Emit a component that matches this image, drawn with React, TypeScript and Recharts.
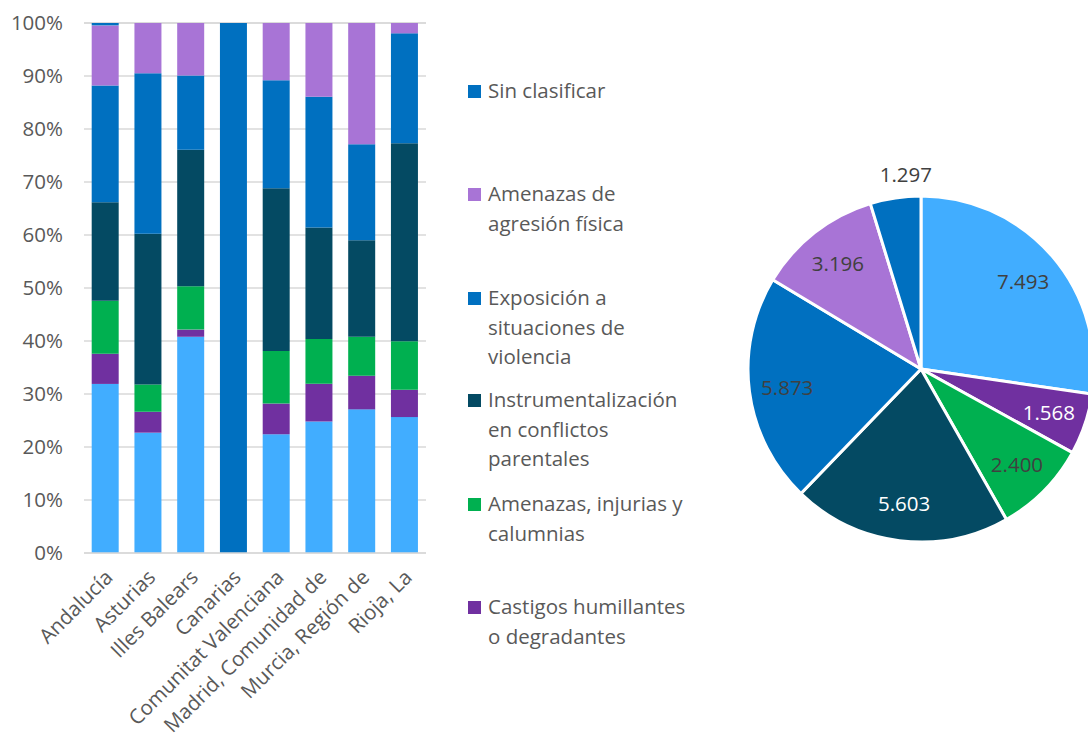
import { BarChart, Bar, XAxis, YAxis, CartesianGrid, PieChart, Pie, Cell } from 'recharts';

const categories = ['Andalucía', 'Asturias', 'Illes Balears', 'Canarias', 'Comunitat Valenciana', 'Madrid, Comunidad de', 'Murcia, Región de', 'Rioja, La'];

// percentage shares per region, bottom to top
const sinNombre = [31.9, 22.7, 40.8, 0, 22.4, 24.8, 27.1, 25.65];
const castigos = [5.7, 3.95, 1.35, 0, 5.8, 7.15, 6.35, 5.15];
const injurias = [10.0, 5.15, 8.2, 0, 9.9, 8.45, 7.35, 9.15];
const instrumentalizacion = [18.6, 28.45, 25.75, 0, 30.7, 21.0, 18.2, 37.35];
const exposicion = [22.0, 30.25, 14.0, 0, 20.4, 24.7, 18.1, 20.75];
const agresion = [11.35, 9.5, 9.9, 0, 10.8, 13.9, 22.9, 1.95];
const sinClasificar = [0.45, 0, 0, 100, 0, 0, 0, 0];

const yTicks = [0, 10, 20, 30, 40, 50, 60, 70, 80, 90, 100];

const pieNames = ['', 'Castigos humillantes o degradantes', 'Amenazas, injurias y calumnias', 'Instrumentalización en conflictos parentales', 'Exposición a situaciones de violencia', 'Amenazas de agresión física', 'Sin clasificar'];
const pieValues = [7493, 1568, 2400, 5603, 5873, 3196, 1297];

const legendItems = [
  { lines: ['Sin clasificar'], color: '#0070C0', top: 76 },
  { lines: ['Amenazas de', 'agresión física'], color: '#A874D6', top: 179 },
  { lines: ['Exposición a', 'situaciones de', 'violencia'], color: '#0070C0', top: 283 },
  { lines: ['Instrumentalización', 'en conflictos', 'parentales'], color: '#044A63', top: 385 },
  { lines: ['Amenazas, injurias y', 'calumnias'], color: '#00B050', top: 489 },
  { lines: ['Castigos humillantes', 'o degradantes'], color: '#7030A0', top: 592 },
];

const COLORS = {
  sinNombre: '#41ADFF',
  castigos: '#7030A0',
  injurias: '#00B050',
  instrumentalizacion: '#044A63',
  exposicion: '#0070C0',
  agresion: '#A874D6',
  sinClasificar: '#0070C0',
};
const pieColors = [COLORS.sinNombre, COLORS.castigos, COLORS.injurias, COLORS.instrumentalizacion, COLORS.exposicion, COLORS.agresion, COLORS.sinClasificar];
const pieTextColors = ['#404040', '#FFFFFF', '#404040', '#FFFFFF', '#404040', '#404040', '#404040'];

const font = '"Open Sans", sans-serif';
const textGray = '#595959';
const fs = 20.5;

const barData = categories.map((name, i) => ({
  name,
  sinNombre: sinNombre[i],
  castigos: castigos[i],
  injurias: injurias[i],
  instrumentalizacion: instrumentalizacion[i],
  exposicion: exposicion[i],
  agresion: agresion[i],
  sinClasificar: sinClasificar[i],
}));

const pieData = pieNames.map((name, i) => ({ name, value: pieValues[i] }));

const fmt = (v: number) => v.toString().replace(/\B(?=(\d{3})+(?!\d))/g, '.');

const LegendBox = () => (
  <div style={{ position: 'absolute', left: 468, top: 0, width: 240, height: 700, fontFamily: font, fontSize: fs, color: textGray }}>
    {legendItems.map((item) => (
      <div key={item.lines[0]} style={{ position: 'absolute', left: 0, top: item.top }}>
        <div style={{ position: 'absolute', left: 0, top: 9, width: 13, height: 13, background: item.color }} />
        <div style={{ position: 'absolute', left: 20, top: 0, lineHeight: '29.5px', whiteSpace: 'nowrap' }}>
          {item.lines.map((l) => (
            <div key={l}>{l}</div>
          ))}
        </div>
      </div>
    ))}
  </div>
);

const XTick = (props: any) => {
  const { x, y, payload } = props;
  return (
    <g transform={`translate(${x + 3},${y + 12})`}>
      <text transform="rotate(-45)" textAnchor="end" dy={8} fill={textGray} fontSize={fs} fontFamily={font}>
        {payload.value}
      </text>
    </g>
  );
};

const renderPieLabel = (props: any) => {
  const { cx, cy, midAngle, outerRadius, index, value } = props;
  const rad = Math.PI / 180;
  const outside = index === 6;
  const r = outside ? outerRadius + 24 : outerRadius * 0.78;
  let x = cx + r * Math.cos(-midAngle * rad);
  const y = cy + r * Math.sin(-midAngle * rad);
  if (outside) x += 14;
  return (
    <text x={x} y={y} textAnchor="middle" dominantBaseline="central" fill={pieTextColors[index]} fontSize={fs} fontFamily={font}>
      {fmt(value)}
    </text>
  );
};

export default function App() {
  return (
    <div style={{ position: 'absolute', left: 0, top: 0, width: 1088, height: 737, background: '#fff', overflow: 'hidden' }}>
      <div style={{ position: 'absolute', left: 0, top: 0 }}>
        <BarChart width={440} height={737} data={barData} margin={{ top: 23, right: 14, bottom: 0, left: 0 }} barCategoryGap="18%">
          <CartesianGrid vertical={false} stroke="#D9D9D9" strokeWidth={1.5} />
          <XAxis
            dataKey="name"
            interval={0}
            height={184}
            tick={<XTick />}
            tickLine={false}
            axisLine={{ stroke: '#D9D9D9', strokeWidth: 1.5 }}
          />
          <YAxis
            domain={[0, 100]}
            ticks={yTicks}
            width={84}
            tickFormatter={(v: number) => `${v}%`}
            tick={{ fill: textGray, fontSize: fs, fontFamily: font }}
            tickLine={false}
            tickSize={0}
            tickMargin={21}
            axisLine={false}
          />
          <Bar dataKey="sinNombre" stackId="a" fill={COLORS.sinNombre} isAnimationActive={false} />
          <Bar dataKey="castigos" stackId="a" fill={COLORS.castigos} isAnimationActive={false} />
          <Bar dataKey="injurias" stackId="a" fill={COLORS.injurias} isAnimationActive={false} />
          <Bar dataKey="instrumentalizacion" stackId="a" fill={COLORS.instrumentalizacion} isAnimationActive={false} />
          <Bar dataKey="exposicion" stackId="a" fill={COLORS.exposicion} isAnimationActive={false} />
          <Bar dataKey="agresion" stackId="a" fill={COLORS.agresion} isAnimationActive={false} />
          <Bar dataKey="sinClasificar" stackId="a" fill={COLORS.sinClasificar} isAnimationActive={false} />
        </BarChart>
      </div>
      <LegendBox />
      <div style={{ position: 'absolute', left: 700, top: 0 }}>
        <PieChart width={400} height={737} margin={{ top: 0, right: 0, bottom: 0, left: 0 }}>
          <Pie
            data={pieData}
            dataKey="value"
            cx={221}
            cy={369}
            outerRadius={173}
            startAngle={90}
            endAngle={-270}
            stroke="#FFFFFF"
            strokeWidth={3}
            label={renderPieLabel}
            labelLine={false}
            isAnimationActive={false}
          >
            {pieData.map((d, i) => (
              <Cell key={i} fill={pieColors[i]} />
            ))}
          </Pie>
        </PieChart>
      </div>
    </div>
  );
}
